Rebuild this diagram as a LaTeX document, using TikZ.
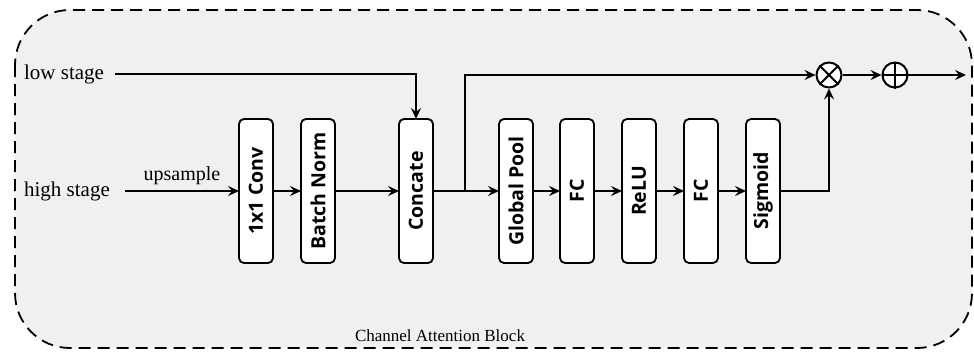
\documentclass[tikz,border=0pt]{standalone}
\usepackage{fontspec}
\setmainfont{Liberation Serif}
\newfontfamily\boxfont{Open Sans}
\usetikzlibrary{arrows.meta, positioning}
\definecolor{blockgray}{RGB}{240,240,240}

\begin{document}
\begin{tikzpicture}[
  x=1pt, y=-1pt,
  font=\fontsize{21}{24}\selectfont,
  line width=2.2pt,
  >={Stealth[length=11pt,width=10pt,inset=4pt]},
  layer/.style={draw, fill=white, rounded corners=5pt, line width=1.8pt,
                minimum width=34pt, minimum height=144pt, inner sep=0pt,
                outer sep=0pt,
                font=\boxfont\bfseries\fontsize{19.5}{22}\selectfont},
  op/.style={draw, circle, fill=white, minimum size=25pt, inner sep=0pt,
             line width=2pt}]

  % canvas and dashed block outline
  \useasboundingbox[fill=white] (0,0) rectangle (974,351);
  \draw[fill=blockgray, dashed, dash pattern=on 12pt off 7pt,
        line width=1.8pt, rounded corners=55pt] (15,10) rectangle (972,348);

  \node[layer] (conv) at (256,191) {\rotatebox{90}{1x1 Conv}};
  \node[layer, right=28pt of conv] (bn) {\rotatebox{90}{Batch Norm}};
  \node[layer, right=64pt of bn] (cat) {\rotatebox{90}{Concate}};
  \node[layer, right=66pt of cat] (gp) {\rotatebox{90}{Global Pool}};
  \node[layer, right=27pt of gp] (fc1) {\rotatebox{90}{FC}};
  \node[layer, right=28pt of fc1] (relu) {\rotatebox{90}{ReLU}};
  \node[layer, right=28pt of relu] (fc2) {\rotatebox{90}{FC}};
  \node[layer, right=28pt of fc2] (sig) {\rotatebox{90}{Sigmoid}};

  \node[anchor=west, inner sep=0pt] (low) at (23,74) {low stage};
  \node[anchor=west, inner sep=0pt] (high) at (23,191) {high stage};

  \node[op] (mul) at (829,75) {};
  \draw[line width=2pt] (mul.north east) -- (mul.south west)
                        (mul.north west) -- (mul.south east);
  \node[op] (add) at (895,75) {};
  \draw[line width=2pt] (add.north) -- (add.south) (add.west) -- (add.east);
  \coordinate (out) at (966,75);
  \coordinate (split) at (465,191);

  % main path
  \draw[->] (high.east) ++(14pt,0) -- (conv)
    node[midway, above=2pt, font=\fontsize{20}{22}\selectfont] {upsample};
  \draw[->] (conv) -- (bn);
  \draw[->] (bn) -- (cat);
  \draw[->] (low.east) ++(10pt,0) -| (cat.north);
  \draw[->] (cat) -- (gp);
  \draw[->] (gp) -- (fc1);
  \draw[->] (fc1) -- (relu);
  \draw[->] (relu) -- (fc2);
  \draw[->] (fc2) -- (sig);

  % attention weights and skip
  \draw[->] (split) |- (mul.west);
  \draw[->] (sig.east) -| (mul.south);
  \draw[->] (mul) -- (add);
  \draw[->] (add) -- (out);

  \node[font=\fontsize{17}{20}\selectfont] (title) at (440,336)
    {Channel Attention Block};
\end{tikzpicture}
\end{document}
